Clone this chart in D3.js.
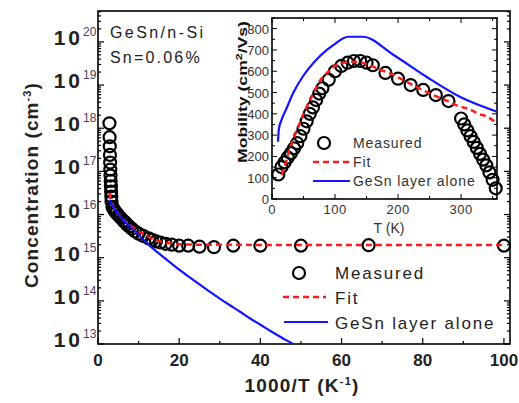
<!DOCTYPE html>
<html>
<head>
<meta charset="utf-8">
<script src="https://cdn.jsdelivr.net/npm/d3@7"></script>
<style>
  body { margin: 0; background: #fff; }
  svg { font-family: "Liberation Sans", Arial, sans-serif; }
</style>
</head>
<body>
<svg id="chart" width="519" height="403"></svg>
<script>
// ---------------- data ----------------
// measured Hall data, temperature in K
var measT = [10, 15, 20, 25, 30, 35, 40, 45, 50, 55, 60, 65, 70, 75, 80, 90, 100, 110, 120, 130,
             140, 150, 160, 180, 200, 220, 240, 260, 280,
             300, 305, 310, 315, 320, 325, 330, 335, 340, 345, 350, 355];
// carrier concentration (cm^-3)
var measConc = [1.9e15, 1.95e15, 1.9e15, 1.9e15, 1.9e15, 1.75e15, 1.8e15, 1.9e15, 1.9e15, 2.0e15,
                2.1e15, 2.25e15, 2.4e15, 2.6e15, 2.8e15, 3.2e15, 3.6e15, 4.1e15, 4.7e15, 5.3e15,
                5.9e15, 6.6e15, 7.2e15, 8.4e15, 9.6e15, 1.08e16, 1.2e16, 1.35e16, 1.5e16,
                2.0e16, 2.6e16, 3.4e16, 4.5e16, 6e16, 8e16, 1.1e17, 1.6e17, 2.4e17, 3.8e17, 6.2e17, 1.3e18];
// mobility (cm2/Vs)
var measMob = [115, 150, 172, 195, 215, 238, 262, 295, 330, 365, 400, 430, 465, 495, 520, 560, 600,
               625, 640, 648, 648, 640, 628, 592, 565, 535, 512, 488, 460,
               378, 350, 322, 295, 268, 240, 212, 185, 158, 125, 90, 50];

// fit curve, main plot (1000/T, conc)
var fitInvT = [2.8, 3.3, 4, 5, 6, 7, 8, 10, 12, 14, 16, 18, 20, 25, 40, 60, 80, 100];
var fitConc = [3.2e16, 2.0e16, 1.4e16, 1.05e16, 8.2e15, 6.6e15, 5.5e15, 4.1e15, 3.2e15, 2.6e15,
               2.3e15, 2.15e15, 2.05e15, 2.0e15, 1.98e15, 1.98e15, 1.98e15, 1.98e15];
// GeSn layer alone, main plot
var layerInvT = [2.82, 3.5, 4.5, 5.5, 7, 8.7, 10, 11.5, 13, 15, 17.5, 20, 22.5, 25, 27.5, 30, 32.5,
                 35, 37.5, 40, 42.5, 45, 47.5, 50];
var layerConc = [2.2e16, 1.65e16, 1.2e16, 9e15, 6.3e15, 4.5e15, 3.4e15, 2.45e15, 1.8e15, 1.26e15,
                 8.1e14, 5.3e14, 3.55e14, 2.4e14, 1.64e14, 1.13e14, 7.9e13, 5.6e13, 3.9e13, 2.8e13,
                 2.0e13, 1.45e13, 1.07e13, 7.9e12];

// fit curve, inset (T, mobility)
var fitT = [15, 20, 26, 30, 35, 42, 50, 63, 77, 90, 100, 113, 125, 140, 166, 190, 208, 230, 256,
            280, 298, 314, 327, 338, 357];
var fitMob = [113, 150, 215, 250, 290, 340, 400, 480, 559, 600, 625, 640, 645, 642, 614, 585, 559,
              525, 488, 458, 434, 421, 400, 391, 355];
// GeSn layer alone, inset
var layerT = [9.5, 11, 15, 23, 34, 50, 66, 87, 103, 113, 121, 144, 193, 245, 298, 357];
var layerMob = [269, 330, 370, 425, 500, 580, 640, 700, 735, 755, 762, 762, 676, 574, 480, 410];

var xTickLabels = [0, 20, 40, 60, 80, 100];
var yExponents = [13, 14, 15, 16, 17, 18, 19, 20];
var insetXLabels = [0, 100, 200, 300];
var insetYLabels = [0, 100, 200, 300, 400, 500, 600, 700, 800];

var legendNames = ["Measured", "Fit", "GeSn layer alone"];

// ---------------- setup ----------------
var svg = d3.select("#chart");
var RED = "#ff1a1a", BLUE = "#1414ff";

var x = d3.scaleLinear().domain([0, 101.5]).range([98, 510]);
var y = d3.scaleLog().domain([1e13, 5.2e20]).range([344, 11]);

// note: "top" is taken by window.top, so use m* names
var mLeft = x.range()[0], mRight = x.range()[1];
var mTop = y.range()[1], mBottom = y.range()[0];

// main ticks (inward), left + right + bottom
var g = svg.append("g");
var logTicks = [];
yExponents.forEach(function(e) {
  for (var k = 1; k < 10; k++) {
    var v = k * Math.pow(10, e);
    if (v <= y.domain()[1]) logTicks.push({v: v, major: k == 1});
  }
});
logTicks.forEach(function(t) {
  var len = t.major ? 6 : 3;
  g.append("line").attr("x1", mLeft).attr("x2", mLeft + len)
    .attr("y1", y(t.v)).attr("y2", y(t.v)).attr("stroke", "#000").attr("stroke-width", 1.2);
  g.append("line").attr("x1", mRight).attr("x2", mRight - len)
    .attr("y1", y(t.v)).attr("y2", y(t.v)).attr("stroke", "#000").attr("stroke-width", 1.2);
});
d3.range(0, 101, 10).forEach(function(v) {
  var len = v % 20 == 0 ? 6 : 3;
  g.append("line").attr("x1", x(v)).attr("x2", x(v))
    .attr("y1", mBottom).attr("y2", mBottom - len).attr("stroke", "#000").attr("stroke-width", 1.2);
});

// frame
svg.append("rect").attr("x", mLeft).attr("y", mTop)
  .attr("width", mRight - mLeft).attr("height", mBottom - mTop)
  .attr("fill", "none").attr("stroke", "#000").attr("stroke-width", 1.6);

// tick labels
xTickLabels.forEach(function(v) {
  svg.append("text").attr("x", x(v)).attr("y", mBottom + 22)
    .attr("text-anchor", "middle").attr("font-size", 17).attr("font-weight", "bold")
    .attr("fill", "#222").text(v);
});
yExponents.forEach(function(e) {
  svg.append("text").attr("x", 83).attr("y", y(Math.pow(10, e)) + 3)
    .attr("text-anchor", "end").attr("font-size", 21).attr("font-weight", "bold")
    .attr("letter-spacing", 3).attr("fill", "#222").text("10");
  svg.append("text").attr("x", 83).attr("y", y(Math.pow(10, e)) - 6)
    .attr("font-size", 12).attr("fill", "#4a4060").text(e);
});

// axis titles
svg.append("text").attr("transform", "translate(38," + 185 + ") rotate(-90)")
  .attr("text-anchor", "middle").attr("font-size", 19).attr("font-weight", "bold")
  .attr("fill", "#222").attr("letter-spacing", 1.1)
  .html("Concentration (cm<tspan dy='-7' font-size='11'>-3</tspan><tspan dy='7'>)</tspan>");
svg.append("text").attr("x", 302).attr("y", 392)
  .attr("text-anchor", "middle").attr("font-size", 19).attr("font-weight", "bold")
  .attr("fill", "#222").attr("letter-spacing", 1.2)
  .html("1000/T (K<tspan dy='-7' font-size='11'>-1</tspan><tspan dy='7'>)</tspan>");

// sample annotation
svg.append("text").attr("x", 110).attr("y", 38).attr("font-size", 16)
  .attr("letter-spacing", 2.4).attr("fill", "#222").text("GeSn/n-Si");
svg.append("text").attr("x", 110).attr("y", 63).attr("font-size", 16)
  .attr("letter-spacing", 2.2).attr("fill", "#222").text("Sn=0.06%");

// ---------------- main data ----------------
svg.append("clipPath").attr("id", "mainclip").append("rect")
  .attr("x", mLeft).attr("y", mTop).attr("width", mRight - mLeft).attr("height", mBottom - mTop);

svg.append("g").selectAll("circle")
  .data(measT.map(function(t, i) { return [1000 / t, measConc[i]]; }))
  .enter().append("circle")
  .attr("cx", function(d) { return x(d[0]); })
  .attr("cy", function(d) { return y(d[1]); })
  .attr("r", 6).attr("fill", "none").attr("stroke", "#000").attr("stroke-width", 2.2);

var lineMain = d3.line().x(function(d) { return x(d[0]); }).y(function(d) { return y(d[1]); })
  .curve(d3.curveMonotoneX);

svg.append("path").datum(fitInvT.map(function(v, i) { return [v, fitConc[i]]; }))
  .attr("d", lineMain).attr("fill", "none").attr("stroke", RED).attr("stroke-width", 2.5)
  .attr("stroke-dasharray", "6,4").attr("clip-path", "url(#mainclip)");

svg.append("path").datum(layerInvT.map(function(v, i) { return [v, layerConc[i]]; }))
  .attr("d", lineMain).attr("fill", "none").attr("stroke", BLUE).attr("stroke-width", 2.2)
  .attr("clip-path", "url(#mainclip)");

// main legend
var lg = svg.append("g").attr("font-size", 17).attr("letter-spacing", 1.8).attr("fill", "#222");
lg.append("circle").attr("cx", 299).attr("cy", 273).attr("r", 6)
  .attr("fill", "none").attr("stroke", "#000").attr("stroke-width", 2.2);
lg.append("line").attr("x1", 283).attr("x2", 326).attr("y1", 297).attr("y2", 297)
  .attr("stroke", RED).attr("stroke-width", 2.5).attr("stroke-dasharray", "6,4");
lg.append("line").attr("x1", 284).attr("x2", 328).attr("y1", 322).attr("y2", 322)
  .attr("stroke", BLUE).attr("stroke-width", 2.2);
legendNames.forEach(function(n, i) {
  lg.append("text").attr("x", 335).attr("y", 279 + i * 25).text(n);
});

// ---------------- inset ----------------
var ix = d3.scaleLinear().domain([0, 357]).range([272, 497]);
var iy = d3.scaleLinear().domain([0, 850]).range([199, 18]);
var iL = ix.range()[0], iR = ix.range()[1], iT = iy.range()[1], iB = iy.range()[0];

var inset = svg.append("g");
inset.append("rect").attr("x", iL).attr("y", iT).attr("width", iR - iL).attr("height", iB - iT)
  .attr("fill", "#fff");

d3.range(0, 351, 50).forEach(function(v) {
  var len = v % 100 == 0 ? 5 : 3;
  inset.append("line").attr("x1", ix(v)).attr("x2", ix(v)).attr("y1", iB).attr("y2", iB - len)
    .attr("stroke", "#000");
  inset.append("line").attr("x1", ix(v)).attr("x2", ix(v)).attr("y1", iT).attr("y2", iT + len)
    .attr("stroke", "#000");
});
d3.range(0, 851, 50).forEach(function(v) {
  var len = v % 100 == 0 ? 5 : 3;
  inset.append("line").attr("x1", iL).attr("x2", iL + len).attr("y1", iy(v)).attr("y2", iy(v))
    .attr("stroke", "#000");
  inset.append("line").attr("x1", iR).attr("x2", iR - len).attr("y1", iy(v)).attr("y2", iy(v))
    .attr("stroke", "#000");
});
inset.append("rect").attr("x", iL).attr("y", iT).attr("width", iR - iL).attr("height", iB - iT)
  .attr("fill", "none").attr("stroke", "#000").attr("stroke-width", 1.6);

insetXLabels.forEach(function(v) {
  inset.append("text").attr("x", ix(v)).attr("y", iB + 15).attr("text-anchor", "middle")
    .attr("font-size", 13).attr("letter-spacing", 0.5).attr("fill", "#333").text(v);
});
insetYLabels.forEach(function(v) {
  inset.append("text").attr("x", iL - 3).attr("y", iy(v) + 5).attr("text-anchor", "end")
    .attr("font-size", 13).attr("fill", "#333").text(v);
});
inset.append("text").attr("x", 389).attr("y", 233).attr("text-anchor", "middle")
  .attr("font-size", 14).attr("fill", "#333").text("T (K)");
inset.append("text").attr("transform", "translate(247,92) rotate(-90)")
  .attr("text-anchor", "middle").attr("font-size", 13).attr("font-weight", "bold")
  .attr("textLength", 142).attr("lengthAdjust", "spacingAndGlyphs").attr("fill", "#111")
  .html("Mobility (cm<tspan dy='-5' font-size='9'>2</tspan><tspan dy='5'>/Vs)</tspan>");

inset.append("g").selectAll("circle")
  .data(measT.map(function(t, i) { return [t, measMob[i]]; }))
  .enter().append("circle")
  .attr("cx", function(d) { return ix(d[0]); })
  .attr("cy", function(d) { return iy(d[1]); })
  .attr("r", 6).attr("fill", "none").attr("stroke", "#000").attr("stroke-width", 2.2);

var lineInset = d3.line().x(function(d) { return ix(d[0]); }).y(function(d) { return iy(d[1]); })
  .curve(d3.curveMonotoneX);

inset.append("path").datum(fitT.map(function(t, i) { return [t, fitMob[i]]; }))
  .attr("d", lineInset).attr("fill", "none").attr("stroke", RED).attr("stroke-width", 2.5)
  .attr("stroke-dasharray", "6,4");
inset.append("path").datum(layerT.map(function(t, i) { return [t, layerMob[i]]; }))
  .attr("d", lineInset).attr("fill", "none").attr("stroke", BLUE).attr("stroke-width", 2.2);

// inset legend
var ilg = inset.append("g").attr("font-size", 14).attr("letter-spacing", 0.9).attr("fill", "#333");
ilg.append("circle").attr("cx", 324).attr("cy", 143).attr("r", 6)
  .attr("fill", "none").attr("stroke", "#000").attr("stroke-width", 2.2);
ilg.append("line").attr("x1", 313).attr("x2", 350).attr("y1", 162).attr("y2", 162)
  .attr("stroke", RED).attr("stroke-width", 2.5).attr("stroke-dasharray", "6,4");
ilg.append("line").attr("x1", 313).attr("x2", 350).attr("y1", 181).attr("y2", 181)
  .attr("stroke", BLUE).attr("stroke-width", 2.2);
legendNames.forEach(function(n, i) {
  ilg.append("text").attr("x", 353).attr("y", 148 + i * 19).text(n);
});
</script>
</body>
</html>
